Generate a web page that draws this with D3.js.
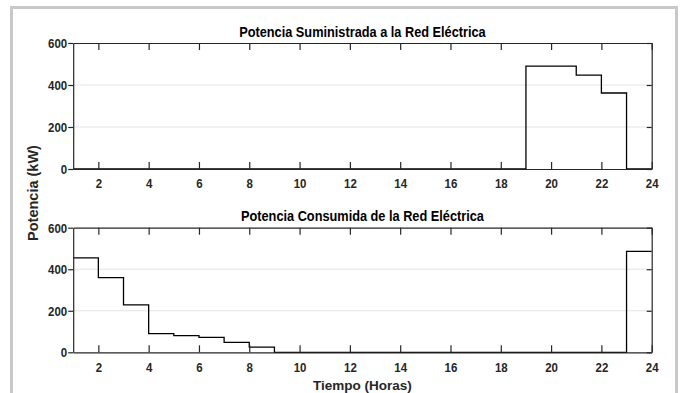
<!DOCTYPE html>
<html><head><meta charset="utf-8">
<script src="https://cdn.jsdelivr.net/npm/d3@7"></script>
<style>
body{margin:0;background:#fff;}
svg{display:block;}
.tick text{font-family:"Liberation Sans",Arial,sans-serif;font-weight:bold;font-size:13.5px;fill:#262626;}
</style></head>
<body>
<script>
const hours = [1,2,3,4,5,6,7,8,9,10,11,12,13,14,15,16,17,18,19,20,21,22,23,24];
const suministrada = [0,0,0,0,0,0,0,0,0,0,0,0,0,0,0,0,0,0,490,490,447,362,0,0];
const consumida   = [455,360,228,90,80,72,48,25,0,0,0,0,0,0,0,0,0,0,0,0,0,0,486,486];
const xTicks = [2,4,6,8,10,12,14,16,18,20,22,24];
const yTicks = [0,200,400,600];
const titles = ["Potencia Suministrada a la Red Eléctrica","Potencia Consumida de la Red Eléctrica"];
const xLabel = "Tiempo (Horas)";
const yLabel = "Potencia (kW)";

const W=680,H=393;
const svg=d3.select("body").append("svg").attr("width",W).attr("height",H);
svg.append("rect").attr("x",11.5).attr("y",7.5).attr("width",665).attr("height",420)
  .attr("fill","#fff").attr("stroke","#c8c8c8").attr("stroke-width",3);

const left=73.2,right=651.7;
const x=d3.scaleLinear().domain([1,24]).range([left,right]);
const panels=[{top:43,bottom:169,data:suministrada,title:titles[0]},
              {top:227.7,bottom:352.3,data:consumida,title:titles[1]}];
const font='"Liberation Sans",Arial,sans-serif';
const sx=0.85;

panels.forEach(p=>{
  const y=d3.scaleLinear().domain([0,600]).range([p.bottom,p.top]);
  const g=svg.append("g");
  g.selectAll(".grid").data([200,400]).enter().append("line")
    .attr("x1",left).attr("x2",right).attr("y1",d=>y(d)).attr("y2",d=>y(d))
    .attr("stroke","#e3e3e3").attr("stroke-width",1);
  const line=d3.line().x((d,i)=>x(hours[i])).y(d=>y(d)).curve(d3.curveStepAfter);
  g.append("path").datum(p.data).attr("d",line).attr("fill","none")
    .attr("stroke","#000").attr("stroke-width",1.3);
  const xb=g.append("g").attr("transform",`translate(0,${p.bottom})`)
    .call(d3.axisBottom(x).tickValues(xTicks).tickSizeInner(-7).tickSizeOuter(0).tickPadding(19.5));
  const xt=g.append("g").attr("transform",`translate(0,${p.top})`)
    .call(d3.axisTop(x).tickValues(xTicks).tickSizeInner(-7).tickSizeOuter(0).tickFormat(""));
  const yl=g.append("g").attr("transform",`translate(${left},0)`)
    .call(d3.axisLeft(y).tickValues(yTicks).tickSizeInner(5).tickSizeOuter(0).tickPadding(1));
  const yr=g.append("g").attr("transform",`translate(${right},0)`)
    .call(d3.axisRight(y).tickValues(yTicks).tickSizeInner(-5).tickSizeOuter(0).tickFormat(""));
  [xb,xt,yl,yr].forEach(a=>{a.selectAll("path,line").attr("stroke","#262626").attr("stroke-width",1.2);});
  xb.selectAll(".tick text").attr("dy","0").attr("transform",`scale(${sx},1)`);
  yl.selectAll(".tick text").each(function(){
    const t=d3.select(this); t.attr("x",+t.attr("x")/sx).attr("transform",`scale(${sx},1)`);
  });
  svg.append("text").attr("transform",`translate(${(left+right)/2},${p.top-6.5}) scale(0.88,1)`)
    .attr("text-anchor","middle")
    .attr("font-family",font).attr("font-weight","bold").attr("font-size",14.5).attr("fill","#000")
    .text(p.title);
});

svg.append("text").attr("x",(left+right)/2).attr("y",389.5).attr("text-anchor","middle")
  .attr("font-family",font).attr("font-weight","bold").attr("font-size",13.5)
  .attr("fill","#262626").text(xLabel);
svg.append("text").attr("transform","translate(38,193) rotate(-90)").attr("text-anchor","middle")
  .attr("font-family",font).attr("font-weight","bold").attr("font-size",14.5)
  .attr("fill","#262626").text(yLabel);
</script>
</body></html>
